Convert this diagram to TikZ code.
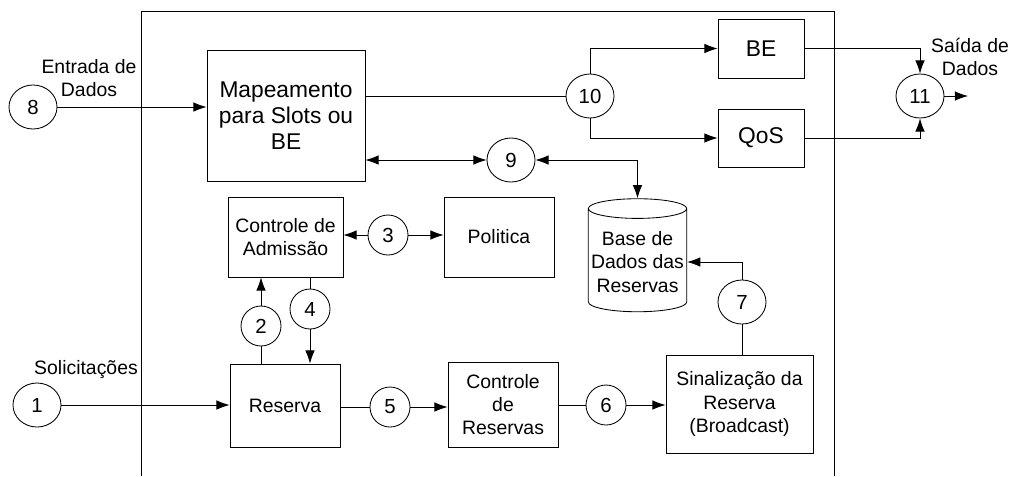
\documentclass[tikz,border=0pt]{standalone}
\usepackage{fontspec}
\setmainfont{Liberation Sans}
\usetikzlibrary{shapes.geometric,arrows.meta}

\begin{document}
\begin{tikzpicture}[x=0.025cm,y=-0.025cm,line width=0.6pt]
    \tikzstyle{block} = [rectangle, draw, align=center, inner sep=2pt, font=\fontsize{13.8}{16.5}\selectfont]
    \tikzstyle{bigblock} = [block, font=\fontsize{16.2}{18.5}\selectfont]
    \tikzstyle{port} = [ellipse, draw, inner sep=0pt, minimum width=1.2cm, minimum height=1.1cm, font=\fontsize{14.5}{16}\selectfont]
    \tikzstyle{smallport} = [port, minimum width=1cm, minimum height=1cm]
    \tikzstyle{outtext} = [align=center, inner sep=0pt, font=\fontsize{13.8}{16}\selectfont]
    \tikzstyle{arrow} = [-{Latex[length=3.3mm,width=2.4mm]}]
    \tikzstyle{dblarrow} = [{Latex[length=3.3mm,width=2.4mm]}-{Latex[length=3.3mm,width=2.4mm]}]

    \useasboundingbox (0,0) rectangle (1010,476);

    % limite do sistema
    \draw (141,476) -- (141,11) -- (834,11) -- (834,476);

    \node (map) [bigblock, minimum width=3.95cm, minimum height=3.275cm] at (286,115.5) {Mapeamento\\para Slots ou\\BE};
    \node (be) [bigblock, minimum width=2.15cm, minimum height=1.475cm] at (761,48.5) {BE};
    \node (qos) [bigblock, minimum width=2.15cm, minimum height=1.45cm] at (761,138) {QoS};
    \node (adm) [block, minimum width=2.875cm, minimum height=2cm] at (285.5,237) {Controle de\\Admissão};
    \node (pol) [block, minimum width=2.75cm, minimum height=2cm] at (499,237) {Politica};
    \node (res) [block, minimum width=2.75cm, minimum height=2.075cm] at (285,405.5) {Reserva};
    \node (ctr) [block, minimum width=2.75cm, minimum height=2.125cm] at (503,404.5) {Controle\\de\\Reservas};
    \node (sin) [block, minimum width=3.675cm, minimum height=2.45cm] at (739.5,404) {Sinalização da\\Reserva\\(Broadcast)};
    \node (db) [block, cylinder, shape border rotate=90, aspect=0.2, minimum width=2.425cm, minimum height=2.825cm] at (637.5,262) {Base de\\Dados das\\Reservas};

    \node (c8) [port] at (33,107) {8};
    \node (c1) [port] at (37,405) {1};
    \node (c10) [port] at (590,96) {10};
    \node (c11) [port] at (920,96) {11};
    \node (c9) [port] at (511,160) {9};
    \node (c7) [port] at (742,302) {7};
    \node (c2) [smallport] at (261,326) {2};
    \node (c4) [smallport] at (310,309) {4};
    \node (c3) [smallport] at (388,235) {3};
    \node (c5) [smallport] at (390,407) {5};
    \node (c6) [smallport] at (606,405) {6};
    \coordinate (out) at (968,96);

    \node (in8) [outtext] at (89,78) {Entrada de\\Dados};
    \node (in1) [outtext] at (86,370) {Solicitações};
    \node (out11) [outtext] at (970,57) {Saída de\\Dados};

    \draw [arrow] (c8.east) -- (c8.east -| map.west);
    \draw (map.east |- c10) -- (c10.west);
    \draw [arrow] (c10.north) |- (be.west);
    \draw [arrow] (c10.south) |- (qos.west);
    \draw [arrow] (be.east) -| (c11.north);
    \draw [arrow] (qos.east) -| (c11.south);
    \draw [arrow] (c11.east) -- (out);
    \draw [dblarrow] (map.east |- c9) -- (c9.west);
    \draw [dblarrow] (c9.east) -| (db.north);
    \draw [arrow] (c3.west) -- (c3.west -| adm.east);
    \draw [arrow] (c3.east) -- (c3.east -| pol.west);
    \draw (res.north -| c2) -- (c2.south);
    \draw [arrow] (c2.north) -- (c2.north |- adm.south);
    \draw (adm.south -| c4) -- (c4.north);
    \draw [arrow] (c4.south) -- (c4.south |- res.north);
    \draw [arrow] (c1.east) -- (c1.east -| res.west);
    \draw (res.east |- c5) -- (c5.west);
    \draw [arrow] (c5.east) -- (c5.east -| ctr.west);
    \draw (ctr.east |- c6) -- (c6.west);
    \draw [arrow] (c6.east) -- (c6.east -| sin.west);
    \draw (sin.north -| c7) -- (c7.south);
    \draw [arrow] (c7.north) |- (db.east);
\end{tikzpicture}
\end{document}
